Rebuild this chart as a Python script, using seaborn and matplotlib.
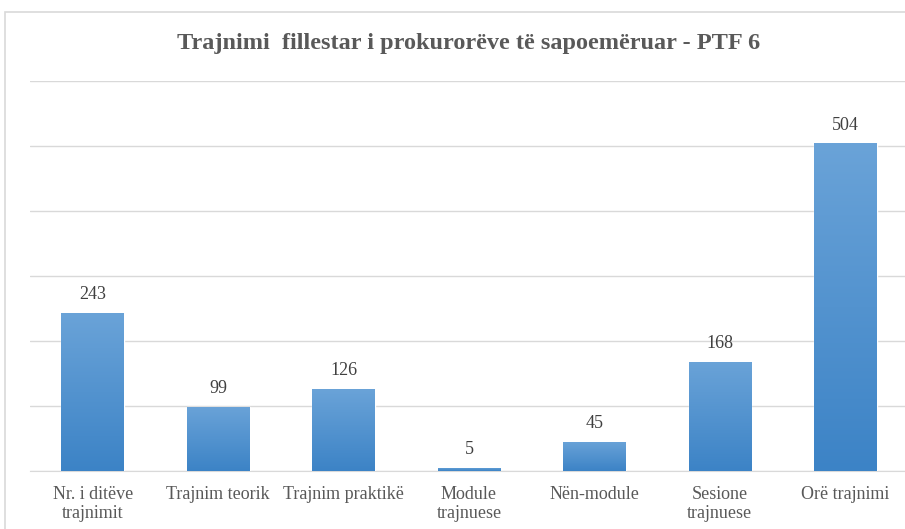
import numpy as np
import pandas as pd
import matplotlib
matplotlib.use("Agg")
import matplotlib.pyplot as plt
import matplotlib.patches as mpatches
from matplotlib.colors import LinearSegmentedColormap
import seaborn as sns

categories = ["Nr. i ditëve\ntrajnimit", "Trajnim teorik", "Trajnim praktikë",
              "Module\ntrajnuese", "Nën-module", "Sesione\ntrajnuese", "Orë trajnimi"]
values = [243, 99, 126, 5, 45, 168, 504]
title = "Trajnimi  fillestar i prokurorëve të sapoemëruar - PTF 6"

df = pd.DataFrame({"kategoria": categories, "vlera": values})

sns.set_style("white")
plt.rcParams["font.family"] = ["Liberation Serif", "DejaVu Serif"]

fig = plt.figure(figsize=(9.05, 5.29), dpi=100)
# outer chart border (cropped on right and bottom like the reference)
fig.patches.append(mpatches.Rectangle((5 / 905, -0.05), 1.0, 1 - 12 / 529 + 0.05,
                                      transform=fig.transFigure, fill=False,
                                      edgecolor="#d9d9d9", linewidth=1.2))

ax = fig.add_axes([30 / 905, 58 / 529, 878 / 905, 390 / 529])
sns.barplot(data=df, x="kategoria", y="vlera", color="#5b9bd5", width=0.5,
            ax=ax, zorder=3)

# vertical gradient inside each bar
cmap = LinearSegmentedColormap.from_list("grad", ["#3c83c6", "#6aa3d8"])
grad = np.linspace(0, 1, 256).reshape(-1, 1)
for p in ax.patches:
    x0, y0 = p.get_x(), p.get_y()
    w, h = p.get_width(), p.get_height()
    im = ax.imshow(grad, cmap=cmap, aspect="auto", origin="lower",
                   extent=[x0, x0 + w, y0, y0 + h], zorder=4)
    im.set_clip_path(p)

ax.set_xlim(-0.5, len(categories) - 0.5)
ax.set_ylim(0, 600)
ax.set_yticks(range(0, 700, 100))
ax.yaxis.grid(True, color="#d9d9d9", linewidth=1)
ax.set_axisbelow(True)
ax.tick_params(axis="y", left=False, labelleft=False)
ax.tick_params(axis="x", bottom=False, labelsize=13, labelcolor="#595959", pad=7)
for s in ["top", "right", "left"]:
    ax.spines[s].set_visible(False)
ax.spines["bottom"].set_color("#d9d9d9")
ax.set_xlabel("")
ax.set_ylabel("")

for lbl in ax.get_xticklabels():
    lbl.set_linespacing(1.2)

ax.bar_label(ax.containers[0], labels=[str(v) for v in values], padding=7,
             fontsize=13, color="#404040", zorder=5)

fig.text(469 / 905, 1 - 44 / 529, title, ha="center", va="center",
         fontsize=17.5, fontweight="bold", color="#595959")

fig.savefig("out.png", dpi=100)
